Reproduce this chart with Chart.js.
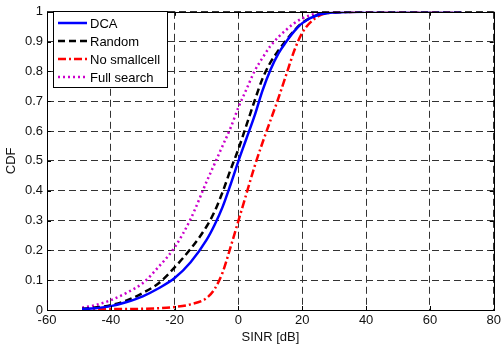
<!DOCTYPE html>
<html><head><meta charset="utf-8">
<script src="https://cdn.jsdelivr.net/npm/chart.js@4/dist/chart.umd.min.js"></script>
<style>html,body{margin:0;padding:0;background:#fff}#wrap{width:504px;height:347px}</style>
</head><body><div id="wrap"><canvas id="c" width="504" height="347"></canvas></div>
<script>
const sinr = [-49,-45,-40,-35,-30,-25,-20,-15,-10,-7.5,-5,-2.5,0,2.5,5,7.5,10,12.5,15,17.5,20,25,30,40,50,60,70];
const dca        = [0.003,0.006,0.013,0.027,0.046,0.073,0.107,0.16,0.235,0.285,0.345,0.42,0.5,0.575,0.65,0.735,0.805,0.86,0.9,0.935,0.962,0.99,0.998,1,1,1,1];
const randomSel  = [0.004,0.008,0.016,0.032,0.057,0.09,0.143,0.205,0.28,0.33,0.395,0.47,0.54,0.62,0.7,0.775,0.83,0.87,0.905,0.937,0.963,0.99,0.998,1,1,1,1];
const noSmall    = [0.002,0.002,0.003,0.003,0.004,0.006,0.01,0.019,0.04,0.07,0.125,0.21,0.3,0.39,0.48,0.56,0.635,0.71,0.79,0.87,0.93,0.985,0.998,1,1,1,1];
const fullSearch = [0.008,0.016,0.033,0.058,0.09,0.145,0.21,0.305,0.43,0.49,0.55,0.61,0.68,0.74,0.8,0.845,0.885,0.915,0.94,0.962,0.978,0.995,1,1,1,1,1];
const names = ['DCA','Random','No smallcell','Full search'];
const xTicks = [-60,-40,-20,0,20,40,60,80];
const yTicks = [0,0.1,0.2,0.3,0.4,0.5,0.6,0.7,0.8,0.9,1];

const pts = arr => sinr.map((x,i)=>({x:x,y:arr[i]}));
const FONT = "'Liberation Sans', Arial, Helvetica, sans-serif";

const frame = {
  id:'frame',
  afterDraw(chart){
    const {ctx, chartArea:a, scales:{x,y}} = chart;
    ctx.save();
    ctx.setLineDash([]);
    ctx.strokeStyle='#000'; ctx.lineWidth=1;
    ctx.strokeRect(Math.round(a.left)+0.5, Math.round(a.top)+0.5, Math.round(a.right-a.left), Math.round(a.bottom-a.top));
    ctx.beginPath();
    xTicks.forEach(v=>{const p=Math.round(x.getPixelForValue(v))+0.5;
      ctx.moveTo(p,a.bottom);ctx.lineTo(p,a.bottom-4);ctx.moveTo(p,a.top);ctx.lineTo(p,a.top+4);});
    yTicks.forEach(v=>{const p=Math.round(y.getPixelForValue(v))+0.5;
      ctx.moveTo(a.left,p);ctx.lineTo(a.left+4,p);ctx.moveTo(a.right,p);ctx.lineTo(a.right-4,p);});
    ctx.stroke();
    // legend
    const L=53,T=11,W=114,H=76;
    ctx.fillStyle='#fff'; ctx.fillRect(L,T,W,H);
    ctx.strokeStyle='#000'; ctx.lineWidth=1; ctx.strokeRect(L+0.5,T+0.5,W,H);
    const rows=[23,41,59,77];
    chart.data.datasets.forEach((ds,i)=>{
      ctx.strokeStyle=ds.borderColor; ctx.lineWidth=ds.borderWidth;
      ctx.setLineDash(ds.borderDash||[]);
      ctx.beginPath(); ctx.moveTo(58,rows[i]); ctx.lineTo(87,rows[i]); ctx.stroke();
      ctx.setLineDash([]);
      ctx.fillStyle='#000'; ctx.font='13px '+FONT; ctx.textBaseline='middle'; ctx.textAlign='left';
      ctx.fillText(ds.label,90,rows[i]+1);
    });
    ctx.restore();
  }
};

new Chart(document.getElementById('c'),{
  type:'line',
  data:{datasets:[
    {label:names[0],data:pts(dca),borderColor:'#0000ff',borderWidth:2.5,borderDash:[]},
    {label:names[1],data:pts(randomSel),borderColor:'#000000',borderWidth:2.5,borderDash:[7,4]},
    {label:names[2],data:pts(noSmall),borderColor:'#ff0000',borderWidth:2.5,borderDash:[8,3,2,3]},
    {label:names[3],data:pts(fullSearch),borderColor:'#cc00cc',borderWidth:2.5,borderDash:[2,3]}
  ]},
  options:{
    responsive:false,animation:false,
    layout:{padding:{left:0,right:9,top:6,bottom:0}},
    elements:{point:{radius:0},line:{cubicInterpolationMode:'monotone',fill:false}},
    plugins:{legend:{display:false},tooltip:{enabled:false}},
    scales:{
      x:{type:'linear',min:-60,max:80,
        afterBuildTicks(s){s.ticks=xTicks.map(v=>({value:v}));},
        afterFit(s){s.height=37;},
        grid:{color:'#333',lineWidth:1,drawTicks:false},
        border:{display:false,dash:[7,4]},
        ticks:{color:'#111',font:{family:FONT,size:13},padding:3,maxRotation:0,callback:v=>String(v)},
        title:{display:true,text:'SINR [dB]',color:'#111',font:{family:FONT,size:13},padding:{top:0,bottom:2}}
      },
      y:{type:'linear',min:0,max:1,
        afterBuildTicks(s){s.ticks=yTicks.map(v=>({value:v}));},
        afterFit(s){s.width=47;},
        grid:{color:'#333',lineWidth:1,drawTicks:false},
        border:{display:false,dash:[7,4]},
        ticks:{color:'#111',font:{family:FONT,size:13},padding:4,callback:v=>String(Math.round(v*10)/10)},
        title:{display:true,text:'CDF',color:'#111',font:{family:FONT,size:13},padding:{top:4,bottom:0}}
      }
    }
  },
  plugins:[frame]
});
</script></body></html>
